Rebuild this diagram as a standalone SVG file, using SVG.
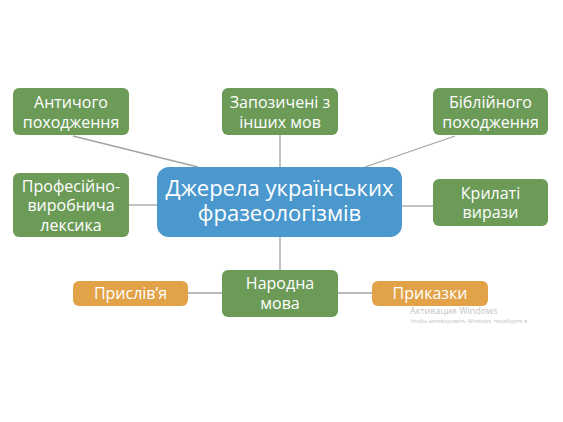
<svg xmlns="http://www.w3.org/2000/svg" width="563" height="422" viewBox="0 0 563 422">
<style>
.g{fill:#6c9b58}
.o{fill:#e2a247}
.b{fill:#4a98cd}
.t{font-family:"Open Sans","DejaVu Sans",sans-serif;font-size:16px;fill:#ffffff;text-anchor:middle}
.tc{font-family:"Open Sans","DejaVu Sans",sans-serif;font-size:22px;fill:#ffffff;text-anchor:middle}
.c{stroke:#a3a3a3;stroke-width:1.3;fill:none}
.w{font-family:"Open Sans","DejaVu Sans",sans-serif;fill:#c4c4c4}
</style>
<rect width="563" height="422" fill="#ffffff"/>
<g id="connectors">
<line class="c" x1="73" y1="136" x2="198" y2="167"/>
<line class="c" x1="455" y1="136" x2="365" y2="167"/>
<line class="c" x1="280" y1="135" x2="280" y2="167"/>
<line class="c" x1="129" y1="205" x2="157" y2="205"/>
<line class="c" x1="402" y1="206" x2="433" y2="206"/>
<line class="c" x1="280" y1="237" x2="280" y2="270"/>
<line class="c" x1="188" y1="293" x2="222" y2="293"/>
<line class="c" x1="338" y1="293" x2="372" y2="293"/>
</g>
<g id="n-antychnoho">
<rect class="g" x="13" y="88" width="116" height="47" rx="6"/>
<text class="t"><tspan x="71" y="107.5">Античого</tspan><tspan x="71" y="127.5">походження</tspan></text>
</g>
<g id="n-zapozycheni">
<rect class="g" x="222" y="88" width="116" height="47" rx="6"/>
<text class="t"><tspan x="280" y="107.5">Запозичені з</tspan><tspan x="280" y="127.5">інших мов</tspan></text>
</g>
<g id="n-bibliinoho">
<rect class="g" x="433" y="88" width="115" height="47" rx="6"/>
<text class="t"><tspan x="490.5" y="107.5">Біблійного</tspan><tspan x="490.5" y="127.5">походження</tspan></text>
</g>
<g id="n-profesiino">
<rect class="g" x="13" y="173" width="116" height="64" rx="6"/>
<text class="t"><tspan x="71" y="191.5">Професійно-</tspan><tspan x="71" y="211">виробнича</tspan><tspan x="71" y="230.5">лексика</tspan></text>
</g>
<g id="n-center">
<rect class="b" x="157" y="167" width="245" height="70" rx="12"/>
<text class="tc"><tspan x="279.5" y="196">Джерела українських</tspan><tspan x="279.5" y="221">фразеологізмів</tspan></text>
</g>
<g id="n-krylati">
<rect class="g" x="433" y="179" width="115" height="47" rx="6"/>
<text class="t"><tspan x="490.5" y="198.5">Крилаті</tspan><tspan x="490.5" y="218">вирази</tspan></text>
</g>
<g id="n-narodna">
<rect class="g" x="222" y="270" width="116" height="47" rx="6"/>
<text class="t"><tspan x="280" y="288.5">Народна</tspan><tspan x="280" y="308.5">мова</tspan></text>
</g>
<g id="n-prysliva">
<rect class="o" x="73" y="281" width="115" height="25" rx="6"/>
<text class="t" x="130.5" y="299">Прислів’я</text>
</g>
<g id="n-prykazky">
<rect class="o" x="372" y="281" width="116" height="25" rx="6"/>
<text class="t" x="430" y="299">Приказки</text>
</g>
<text class="w" x="410" y="314" font-size="9">Активация Windows</text>
<text class="w" x="410" y="322.5" font-size="5.5">Чтобы активировать Windows, перейдите в</text>
</svg>
